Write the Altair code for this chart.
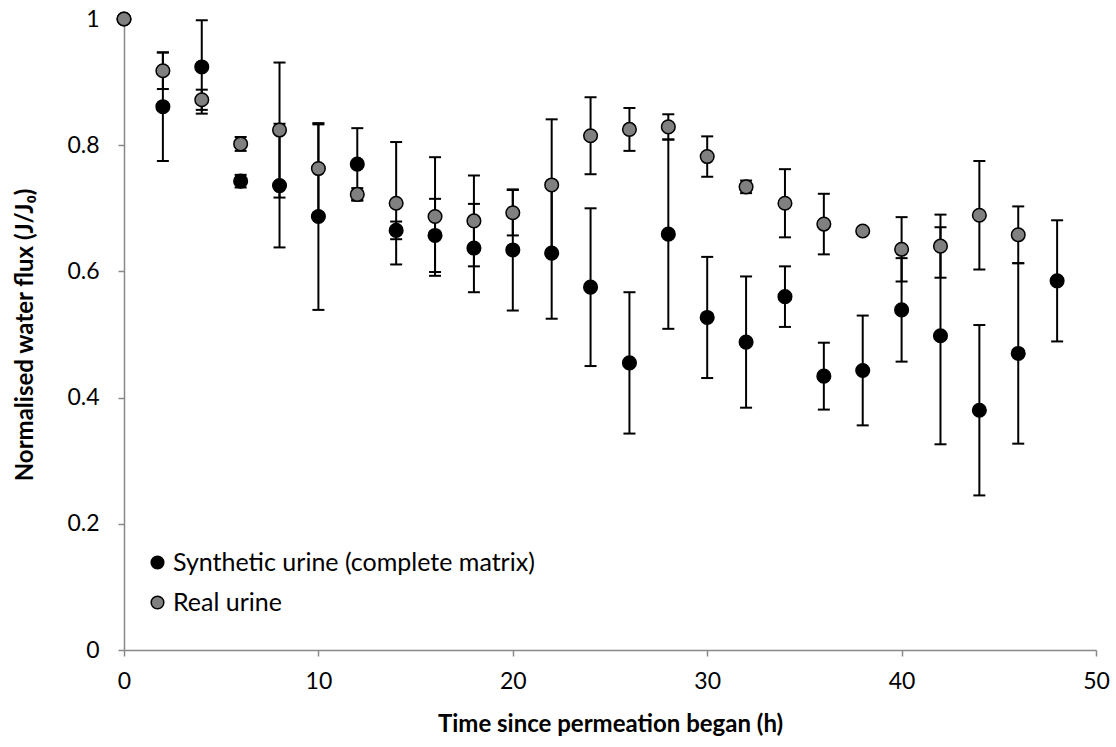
import altair as alt
import pandas as pd

# ---- data ----
time_h = [0, 2, 4, 6, 8, 10, 12, 14, 16, 18, 20, 22, 24, 26, 28, 30, 32, 34, 36, 38, 40, 42, 44, 46, 48]
synthetic_mean = [1.0, 0.861, 0.924, 0.743, 0.736, 0.687, 0.770, 0.665, 0.657, 0.637, 0.634, 0.629, 0.575,
                  0.455, 0.659, 0.527, 0.488, 0.560, 0.434, 0.443, 0.539, 0.498, 0.380, 0.470, 0.585]
synthetic_err = [0.0, 0.086, 0.074, 0.010, 0.098, 0.148, 0.057, 0.014, 0.058, 0.070, 0.096, 0.104, 0.125,
                 0.112, 0.150, 0.096, 0.104, 0.048, 0.053, 0.087, 0.082, 0.172, 0.135, 0.143, 0.096]

real_time = [0, 2, 4, 6, 8, 10, 12, 14, 16, 18, 20, 22, 24, 26, 28, 30, 32, 34, 36, 38, 40, 42, 44, 46]
real_mean = [1.0, 0.918, 0.872, 0.802, 0.824, 0.763, 0.722, 0.708, 0.687, 0.680, 0.693, 0.737, 0.815,
             0.825, 0.829, 0.782, 0.734, 0.708, 0.675, 0.664, 0.635, 0.640, 0.689, 0.658]
real_err = [0.0, 0.029, 0.016, 0.011, 0.107, 0.070, 0.010, 0.097, 0.094, 0.072, 0.036, 0.104, 0.061,
            0.034, 0.020, 0.032, 0.010, 0.054, 0.048, 0.003, 0.051, 0.050, 0.086, 0.045]

SYN = "Synthetic urine (complete matrix)"
REAL = "Real urine"
series_names = [SYN, REAL]
series_colors = ["#000000", "#808080"]

rows = []
for t, m, e in zip(time_h, synthetic_mean, synthetic_err):
    rows.append({"t": t, "series": SYN, "mean": m, "lo": m - e, "hi": m + e})
for t, m, e in zip(real_time, real_mean, real_err):
    rows.append({"t": t, "series": REAL, "mean": m, "lo": m - e, "hi": m + e})
df = pd.DataFrame(rows)

FONT = "Lato"
LABEL_FS = 23
TITLE_FS = 24
LEGEND_FS = 25

x_axis = alt.Axis(values=[0, 10, 20, 30, 40, 50], title="Time since permeation began (h)",
                  labelFlush=False, labelPadding=14, titleX=486, titleY=81,
                  titleBaseline="alphabetic", titleAlign="center")
y_axis = alt.Axis(values=[0, 0.2, 0.4, 0.6, 0.8, 1], format="~g", title="Normalised water flux (J/J₀)",
                  labelFlush=False, labelPadding=19, titleX=-99, titleY=315.5, titleAngle=270,
                  titleBaseline="middle", titleAlign="center")
x_scale = alt.Scale(domain=[0, 50], nice=False)
y_scale = alt.Scale(domain=[0, 1], nice=False)


def X():
    return alt.X("t:Q", scale=x_scale, axis=x_axis)


def Y(field):
    return alt.Y(f"{field}:Q", scale=y_scale, axis=y_axis)


base = alt.Chart(df)

rules = base.mark_rule(color="black", strokeWidth=2).encode(x=X(), y=Y("lo"), y2="hi:Q")
caps_lo = base.mark_tick(orient="horizontal", size=12, thickness=2, color="black", opacity=1).encode(x=X(), y=Y("lo"))
caps_hi = base.mark_tick(orient="horizontal", size=12, thickness=2, color="black", opacity=1).encode(x=X(), y=Y("hi"))

points = base.mark_circle(size=185, stroke="black", strokeWidth=1.5, opacity=1).encode(
    x=X(),
    y=Y("mean"),
    fill=alt.Fill("series:N", scale=alt.Scale(domain=series_names, range=series_colors),
                  legend=alt.Legend(orient="none", legendX=21, legendY=531, title=None,
                                    labelFont=FONT, labelFontSize=LEGEND_FS, labelColor="black",
                                    symbolType="circle", symbolSize=160, symbolStrokeColor="black",
                                    symbolStrokeWidth=1.5, rowPadding=14, padding=0,
                                    labelOffset=3, symbolOffset=0, labelLimit=600)),
)

chart = alt.layer(rules, caps_lo, caps_hi, points).properties(
    width=972, height=631,
    autosize=alt.AutoSizeParams(type="none"),
    padding={"left": 124, "top": 19, "right": 20, "bottom": 97},
    background="white",
).configure_view(stroke=None).configure_axis(
    grid=False, domainColor="#888888", tickColor="#888888", domainWidth=1.5, tickWidth=1.5, tickSize=6,
    labelFont=FONT, labelFontSize=LABEL_FS, labelColor="black",
    titleFont=FONT, titleFontSize=TITLE_FS, titleFontWeight="bold", titleColor="black",
)

chart.save("out.html", embed_options={"renderer": "svg", "actions": False})
